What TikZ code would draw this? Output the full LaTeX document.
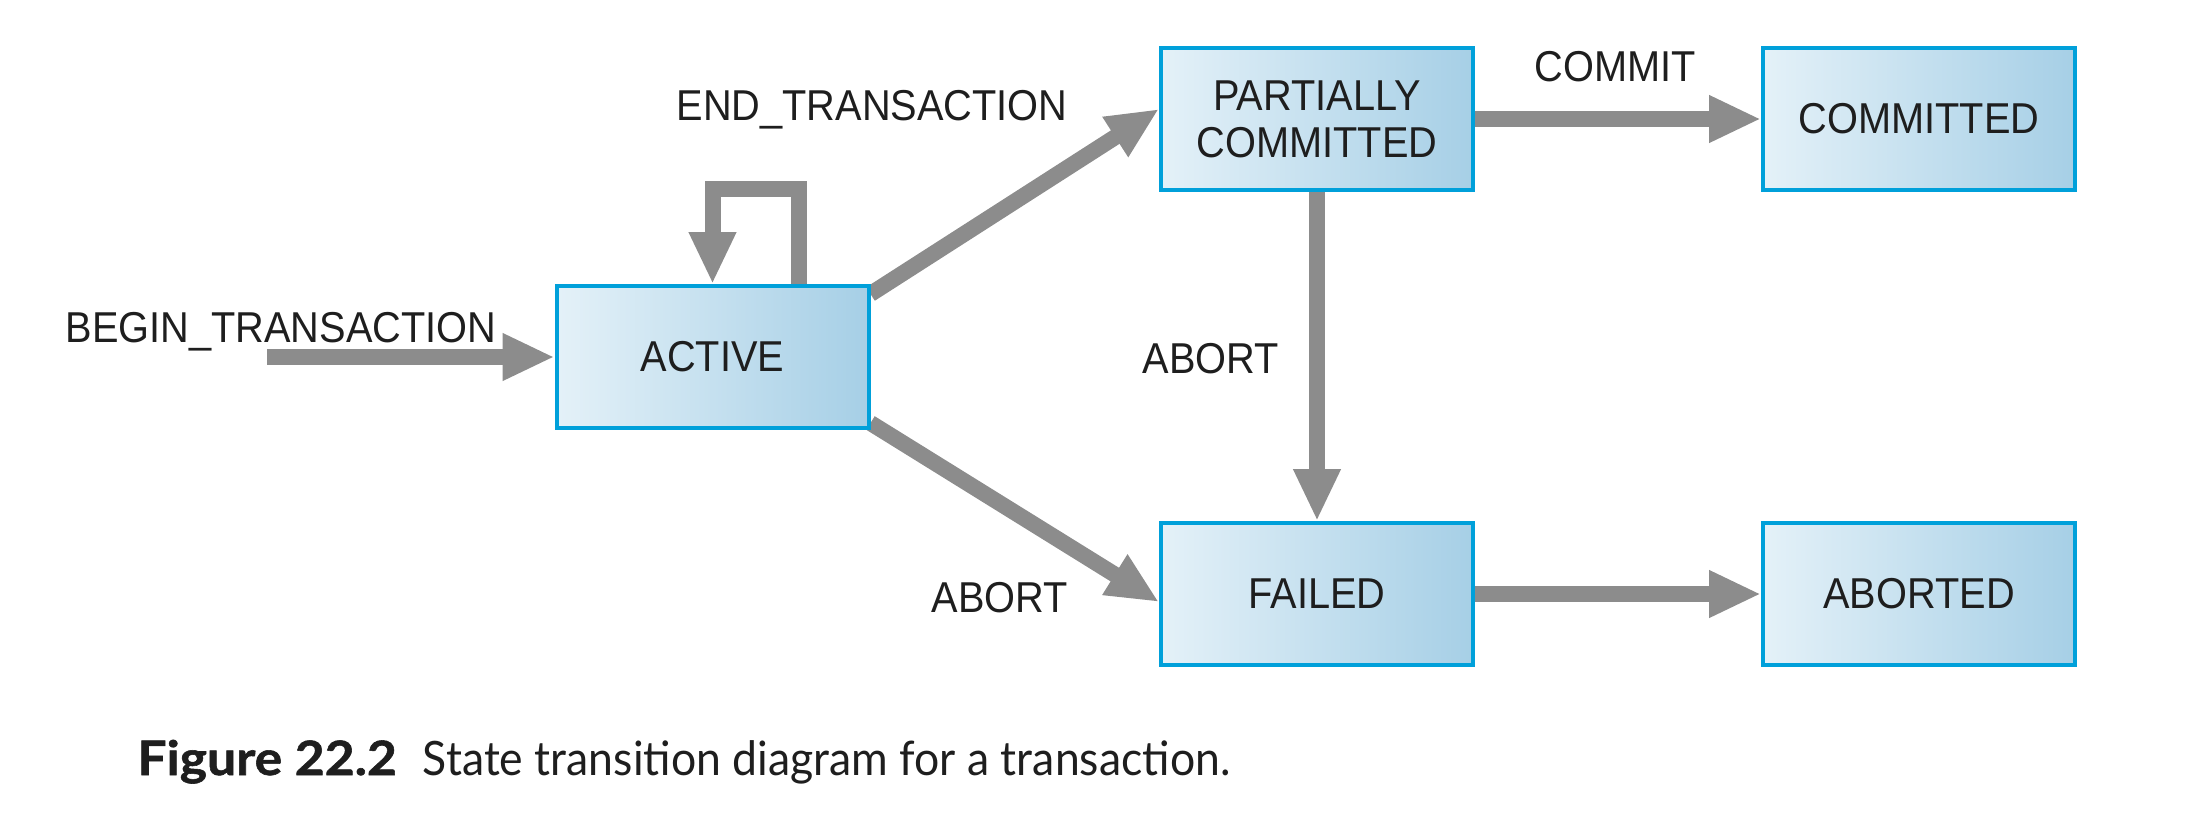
\documentclass[tikz,border=0pt]{standalone}
\usepackage{fontspec}
\setmainfont{Liberation Sans}[FakeStretch=0.92]
\newfontfamily\capfont{Lato}[FakeStretch=0.94]
\newfontfamily\capboldfont{Lato Bold}[FakeStretch=1.09,FakeBold=1.2]
\usetikzlibrary{arrows.meta,positioning}
\definecolor{boxline}{RGB}{0,160,218}
\definecolor{boxleft}{RGB}{228,241,248}
\definecolor{boxright}{RGB}{166,207,230}
\definecolor{arrgray}{RGB}{140,140,140}
\definecolor{txt}{RGB}{30,30,30}
\pgfdeclarelayer{bg}
\pgfsetlayers{bg,main}
\tikzset{
  state/.style={draw=boxline, line width=2pt, left color=boxleft, right color=boxright,
    minimum width=156pt, minimum height=71pt, inner sep=0pt, align=center,
    text=txt, font=\fontsize{21.6}{23.5}\selectfont},
  lbl/.style={text=txt, font=\fontsize{21.6}{23.5}\selectfont, inner sep=0pt, anchor=base},
  arr/.style={draw=arrgray, line width=8pt, -{Triangle[width=22pt,length=26pt]}},
}
\begin{document}
\begin{tikzpicture}[x=0.5pt,y=-0.5pt]
\useasboundingbox (0,0) rectangle (2196,836);
\node[state] (act) at (712.5,357) {ACTIVE};
\node[state] (pc) at (1317,119) {PARTIALLY\\COMMITTED};
\node[state] (com) at (1919,119) {COMMITTED};
\node[state] (fail) at (1317,594) {FAILED};
\node[state] (abo) at (1919,594) {ABORTED};
\coordinate (start) at (267,357);
\begin{pgfonlayer}{bg}
\draw[arr] (start) -- (act.west);
\draw[arr] ([xshift=43pt]act.north) -- ++(0,-95) -| (act.north);
\draw[arr] ([yshift=-5pt]act.north east) -- ([yshift=5pt]pc.west);
\draw[arr] ([yshift=3.5pt]act.south east) -- ([yshift=-4pt]fail.west);
\draw[arr] (pc.south) -- (fail.north);
\draw[arr] (pc.east) -- (com.west);
\draw[arr] (fail.east) -- (abo.west);
\end{pgfonlayer}
\node[lbl] (lbegin) at (281,342) {BEGIN\_TRANSACTION};
\node[lbl] (lend) at (872,120) {END\_TRANSACTION};
\node[lbl] (lcommit) at (1615,81) {COMMIT};
\node[lbl] (labort1) at (1211,373) {ABORT};
\node[lbl] (labort2) at (1000,612) {ABORT};
\node[anchor=base west, inner sep=0pt, text=txt, font=\fontsize{23.7}{28}\selectfont] (cap) at (137,775)
  {{\capboldfont Figure 22.2}\hspace{13pt}{\capfont State transition diagram for a transaction.}};
\end{tikzpicture}
\end{document}
